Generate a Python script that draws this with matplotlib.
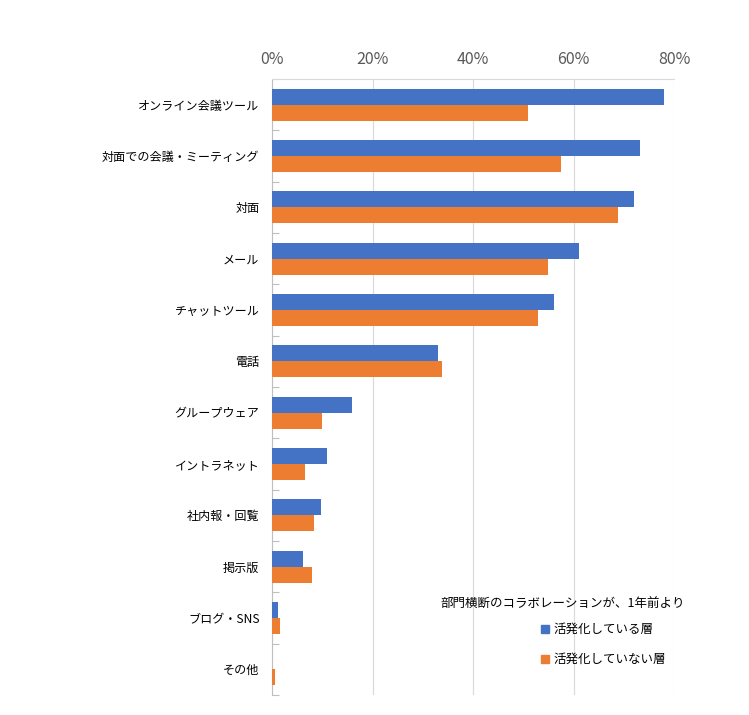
import matplotlib
matplotlib.use("Agg")
import matplotlib.pyplot as plt
from matplotlib.lines import Line2D
import numpy as np

plt.rcParams['font.family'] = ['Noto Sans CJK JP', 'DejaVu Sans']

categories = ["オンライン会議ツール", "対面での会議・ミーティング", "対面", "メール", "チャットツール",
              "電話", "グループウェア", "イントラネット", "社内報・回覧", "掲示版", "ブログ・SNS", "その他"]
active = [78.1, 73.2, 72.0, 61.0, 56.2, 33.0, 15.9, 11.0, 9.8, 6.2, 1.2, 0.0]
not_active = [51.0, 57.5, 68.9, 55.0, 53.0, 33.8, 10.0, 6.5, 8.4, 8.0, 1.5, 0.5]
series_labels = ["活発化している層", "活発化していない層"]
legend_title = "部門横断のコラボレーションが、1年前より"
xticks = [0, 20, 40, 60, 80]

blue = "#4472C4"
orange = "#ED7D31"
grid_c = "#D9D9D9"

fig = plt.figure(figsize=(7.49, 7.15), dpi=100)
ax = fig.add_axes([272/749, 1-695/715, (674-272)/749, (695-79)/715])

n = len(categories)
y = np.arange(n)
h = 0.312
ax.barh(y - h/2, active, height=h, color=blue, zorder=3)
ax.barh(y + h/2, not_active, height=h, color=orange, zorder=3)

ax.set_ylim(n - 0.5, -0.5)
ax.set_xlim(0, 80)
ax.xaxis.tick_top()
ax.set_xticks(xticks)
ax.set_xticklabels([f"{v}%" for v in xticks], fontsize=11.5, color="#595959")
ax.tick_params(axis='x', length=0, pad=8)
ax.grid(axis='x', color=grid_c, linewidth=0.8, zorder=0)

ax.set_yticks(y)
ax.set_yticklabels(categories, fontsize=8.7, color="#000000")
ax.tick_params(axis='y', which='major', length=0, pad=9)
ax.set_yticks(np.arange(-0.5, n, 1), minor=True)
ax.tick_params(axis='y', which='minor', direction='in', length=5, color="#BFBFBF", width=0.8)

for s in ['right', 'bottom']:
    ax.spines[s].set_visible(False)
ax.spines['top'].set_color(grid_c)
ax.spines['top'].set_linewidth(0.8)
ax.spines['left'].set_color("#BFBFBF")
ax.spines['left'].set_linewidth(0.8)

fig.text(440/749, 1-604/715, legend_title, fontsize=9, ha='left', va='center', color="#000000")
handles = [Line2D([0], [0], marker='s', linestyle='none', markersize=6, color=blue),
           Line2D([0], [0], marker='s', linestyle='none', markersize=6, color=orange)]
fig.legend(handles, series_labels, loc='upper left', bbox_to_anchor=(540/749, 1-623/715),
           frameon=False, fontsize=9, handlelength=0.8, handletextpad=0.3,
           labelspacing=1.35, borderpad=0, borderaxespad=0)

fig.savefig("out.png", dpi=100, facecolor="white")
